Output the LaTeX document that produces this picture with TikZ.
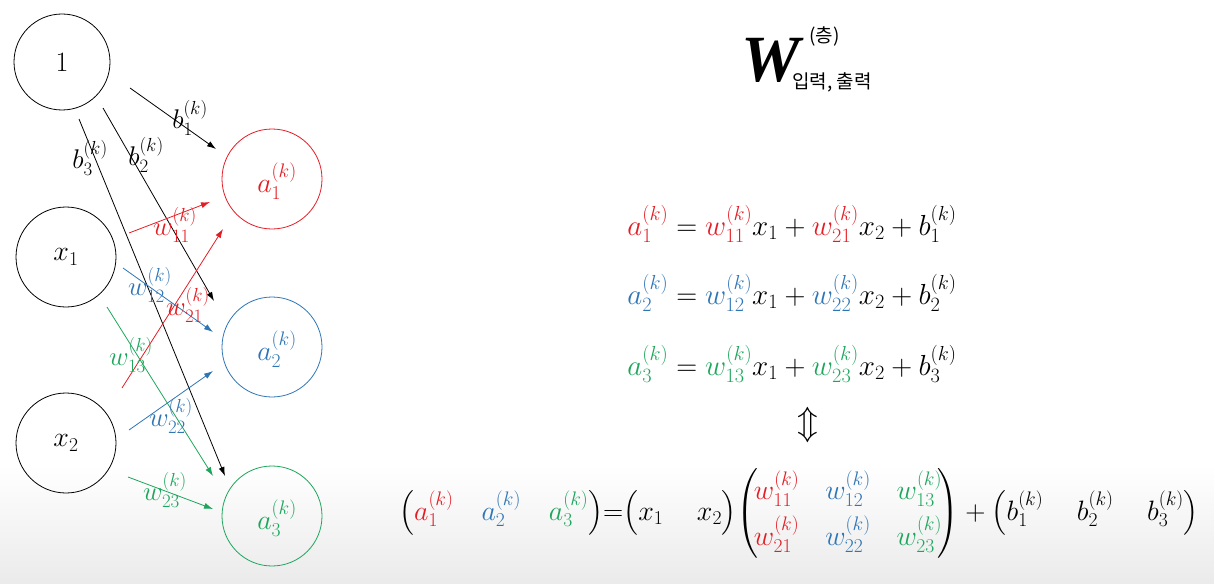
\RequirePackage{fix-cm}
\documentclass[tikz,border=0pt]{standalone}
\usepackage{amsmath}
\usepackage{fontspec}
\newfontfamily\kr{Noto Sans CJK KR}
\newfontfamily\tms{Liberation Serif}
\usetikzlibrary{arrows.meta}
\definecolor{cr}{RGB}{228,28,36}
\definecolor{cb}{RGB}{46,117,182}
\definecolor{cg}{RGB}{28,166,92}
\newcommand{\kk}{^{(k)}}
\tikzset{
  neuron/.style={circle,draw,minimum size=100pt,inner sep=0pt,line width=0.8pt},
  arr/.style={-{Latex[length=9pt,width=6pt]},line width=0.8pt},
  lbl/.style={inner sep=0pt,font=\fontsize{27}{32}\selectfont},
  eq/.style={inner sep=0pt,font=\fontsize{29}{34}\selectfont}
}
\begin{document}
\begin{tikzpicture}[x=1pt,y=-1pt]
\useasboundingbox (0,0) rectangle (1214,583);
\shade[top color=white,bottom color=black!8] (0,465) rectangle (1214,583);
% neurons
\node[neuron,minimum size=96pt,font=\fontsize{28}{32}\selectfont] (one) at (62,62) {1};
\node[neuron,font=\fontsize{28}{32}\selectfont] (x1) at (66,257) {$x_1$};
\node[neuron,font=\fontsize{28}{32}\selectfont] (x2) at (66,443) {$x_2$};
\node[neuron,draw=cr] (a1) at (272,179) {};
\node[neuron,draw=cb] (a2) at (272,347) {};
\node[neuron,draw=cg] (a3) at (272,516) {};
\node[lbl,text=cr,font=\fontsize{28}{32}\selectfont] (ta1) at (277,181) {$a_1\kk$};
\node[lbl,text=cb,font=\fontsize{28}{32}\selectfont] (ta2) at (277,349) {$a_2\kk$};
\node[lbl,text=cg,font=\fontsize{28}{32}\selectfont] (ta3) at (277,518) {$a_3\kk$};
% connector end points
\coordinate (b1s) at (130,88);  \coordinate (b1e) at (216,149);
\coordinate (b2s) at (103,108); \coordinate (b2e) at (214,301);
\coordinate (b3s) at (79,119);  \coordinate (b3e) at (225,476);
\coordinate (w11s) at (129,233); \coordinate (w11e) at (210,202);
\coordinate (w21s) at (122,388); \coordinate (w21e) at (223,229);
\coordinate (w12s) at (123,268); \coordinate (w12e) at (213,332);
\coordinate (w22s) at (129,430); \coordinate (w22e) at (213,371);
\coordinate (w13s) at (107,307); \coordinate (w13e) at (213,476);
\coordinate (w23s) at (128,477); \coordinate (w23e) at (213,509);
\draw[arr] (b1s) -- (b1e);
\draw[arr] (b2s) -- (b2e);
\draw[arr] (b3s) -- (b3e);
\draw[arr,cr] (w11s) -- (w11e);
\draw[arr,cr] (w21s) -- (w21e);
\draw[arr,cb] (w12s) -- (w12e);
\draw[arr,cb] (w22s) -- (w22e);
\draw[arr,cg] (w13s) -- (w13e);
\draw[arr,cg] (w23s) -- (w23e);
% labels
\node[lbl] (lb1) at (190,118) {$b_1\kk$};
\node[lbl] (lb2) at (146,155) {$b_2\kk$};
\node[lbl] (lb3) at (90,158) {$b_3\kk$};
\node[lbl,text=cr] (lw11) at (175,225) {$w_{11}\kk$};
\node[lbl,text=cb] (lw12) at (150,285) {$w_{12}\kk$};
\node[lbl,text=cr] (lw21) at (188,305) {$w_{21}\kk$};
\node[lbl,text=cg] (lw13) at (131,355) {$w_{13}\kk$};
\node[lbl,text=cb] (lw22) at (171,416) {$w_{22}\kk$};
\node[lbl,text=cg] (lw23) at (165,490) {$w_{23}\kk$};
% title
\node[inner sep=0pt,anchor=base] (W) at (771,82) {\tms\fontsize{66}{70}\selectfont\bfseries\itshape W};
\node[inner sep=0pt,anchor=base west] (Wsup) at (809,43) {\kr\fontsize{19}{22}\selectfont (층)};
\node[inner sep=0pt,anchor=base west] (Wsub) at (792,89) {\kr\fontsize{19}{22}\selectfont 입력, 출력};
% equations
\node[eq] (e1) at (792,224) {$\color{cr}a_1\kk\color{black} = \color{cr}w_{11}\kk\color{black}x_1+\color{cr}w_{21}\kk\color{black}x_2+b_1\kk$};
\node[eq] (e2) at (792,293) {$\color{cb}a_2\kk\color{black} = \color{cb}w_{12}\kk\color{black}x_1+\color{cb}w_{22}\kk\color{black}x_2+b_2\kk$};
\node[eq] (e3) at (792,364) {$\color{cg}a_3\kk\color{black} = \color{cg}w_{13}\kk\color{black}x_1+\color{cg}w_{23}\kk\color{black}x_2+b_3\kk$};
\node[eq,font=\fontsize{34}{38}\selectfont] (eqv) at (808,425) {$\Updownarrow$};
% matrix equation
\node[eq,font=\fontsize{28}{34}\selectfont] (em) at (799,513) {$\setlength{\arraycolsep}{13pt}%
\bigl({\color{cr}a_1\kk}\hspace{1em}{\color{cb}a_2\kk}\hspace{1em}{\color{cg}a_3\kk}\bigr){=}\bigl(x_1\hspace{1.2em}x_2\bigr)%
\!\left(\!\begin{matrix}\color{cr}w_{11}\kk&\color{cb}w_{12}\kk&\color{cg}w_{13}\kk\\[6pt]\color{cr}w_{21}\kk&\color{cb}w_{22}\kk&\color{cg}w_{23}\kk\end{matrix}\!\right)%
+\bigl(b_1\kk\hspace{1.2em}b_2\kk\hspace{1.2em}b_3\kk\bigr)$};
\end{tikzpicture}
\end{document}
